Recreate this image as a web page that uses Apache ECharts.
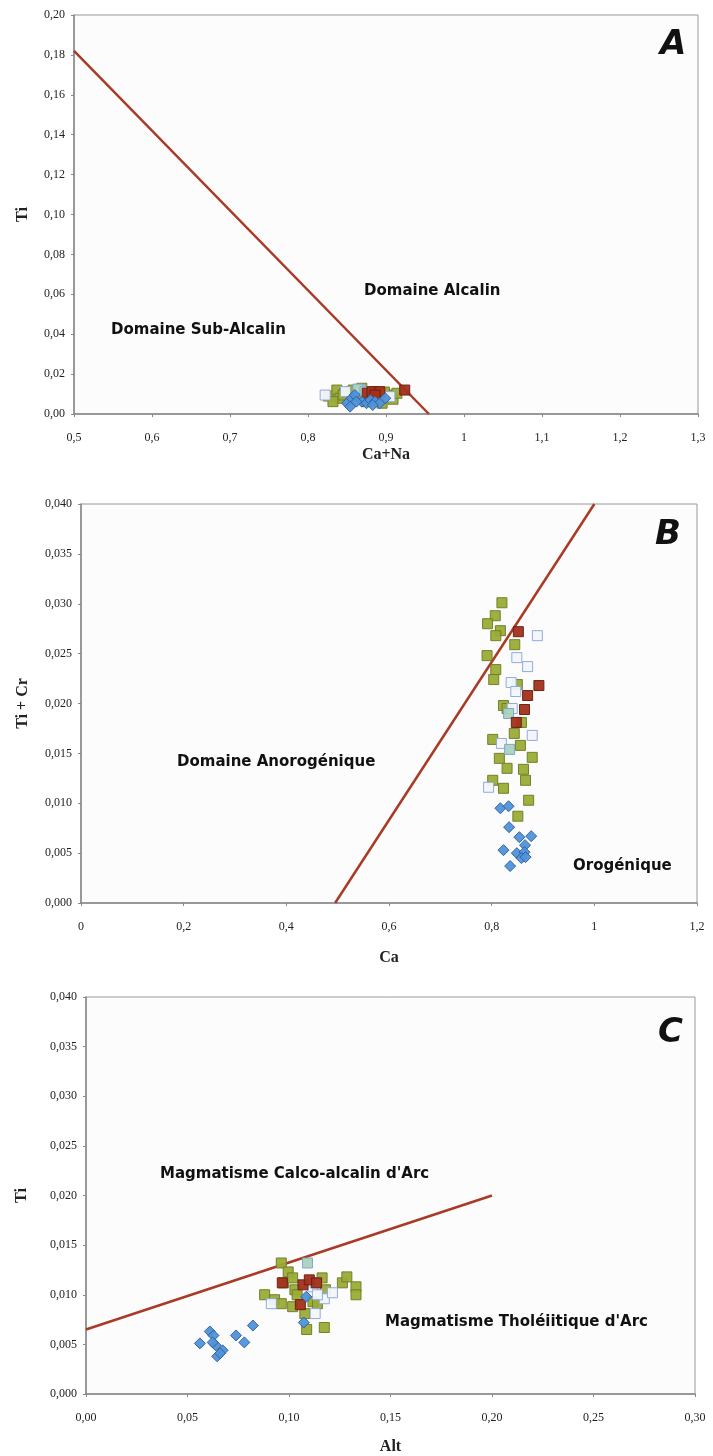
<!DOCTYPE html>
<html>
<head>
<meta charset="utf-8">
<script src="https://cdn.jsdelivr.net/npm/echarts@6/dist/echarts.min.js"></script>
<style>
  html, body { margin: 0; padding: 0; background: #fff; }
  #chart { width: 713px; height: 1456px; }
</style>
</head>
<body>
<div id="chart"></div>
<script>
// --- Panel A : Ti vs Ca+Na ---
var aGreen = [[0.826,0.009],[0.837,0.012],[0.841,0.0079],[0.847,0.0104],[0.854,0.0112],[0.862,0.0087],[0.869,0.0129],[0.875,0.0062],[0.886,0.0112],[0.895,0.0054],[0.903,0.0095],[0.909,0.0074],[0.914,0.0104],[0.832,0.0062],[0.845,0.0095],[0.880,0.0104],[0.898,0.011],[0.858,0.012]];
var aRed = [[0.876,0.0104],[0.882,0.0112],[0.892,0.0112],[0.886,0.0095],[0.924,0.012]];
var aBlue = [[0.850,0.0054],[0.856,0.0079],[0.860,0.0095],[0.854,0.0037],[0.869,0.0062],[0.875,0.0054],[0.880,0.0070],[0.886,0.0062],[0.892,0.0054],[0.899,0.0079],[0.862,0.0062],[0.883,0.0045]];
var aOpen = [[0.822,0.0095],[0.867,0.012],[0.905,0.0087],[0.848,0.0112]];
var aTeal = [[0.864,0.0125],[0.873,0.0112]];
var aLine = [[0.5,0.182],[0.955,0]];

// --- Panel B : Ti+Cr vs Ca ---
var bGreen = [[0.820,0.0301],[0.807,0.0288],[0.792,0.0280],[0.817,0.0273],[0.808,0.0268],[0.845,0.0259],[0.791,0.0248],[0.808,0.0234],[0.804,0.0224],[0.850,0.0219],[0.823,0.0198],[0.830,0.0195],[0.858,0.0181],[0.844,0.0170],[0.802,0.0164],[0.856,0.0158],[0.815,0.0145],[0.879,0.0146],[0.830,0.0135],[0.862,0.0134],[0.802,0.0123],[0.866,0.0123],[0.823,0.0115],[0.872,0.0103],[0.851,0.0087]];
var bRed = [[0.852,0.0272],[0.892,0.0218],[0.870,0.0208],[0.864,0.0194],[0.848,0.0181]];
var bBlue = [[0.817,0.0095],[0.833,0.0097],[0.834,0.0076],[0.877,0.0067],[0.854,0.0066],[0.865,0.0058],[0.823,0.0053],[0.849,0.0050],[0.864,0.0051],[0.858,0.0045],[0.866,0.0046],[0.836,0.0037]];
var bOpen = [[0.889,0.0268],[0.849,0.0246],[0.870,0.0237],[0.838,0.0221],[0.847,0.0212],[0.840,0.0195],[0.879,0.0168],[0.819,0.0160],[0.794,0.0116]];
var bTeal = [[0.833,0.0190],[0.835,0.0154]];
var bLine = [[0.495,0],[1.0,0.040]];

// --- Panel C : Ti vs Alt ---
var cGreen = [[0.0962,0.0132],[0.0996,0.0123],[0.0973,0.0112],[0.1018,0.0117],[0.1029,0.0105],[0.0880,0.0100],[0.0929,0.0095],[0.0962,0.0091],[0.1018,0.0088],[0.1040,0.0100],[0.1078,0.0081],[0.1087,0.0065],[0.1118,0.0093],[0.1163,0.0117],[0.1180,0.0105],[0.1174,0.0067],[0.1263,0.0112],[0.1285,0.0118],[0.1330,0.0108],[0.1330,0.0100],[0.1140,0.0091]];
var cRed = [[0.0967,0.0112],[0.1069,0.0110],[0.1100,0.0115],[0.1056,0.0090],[0.1136,0.0112]];
var cBlue = [[0.0561,0.0051],[0.0610,0.0063],[0.0628,0.0059],[0.0639,0.0049],[0.0646,0.0038],[0.0673,0.0044],[0.0661,0.0041],[0.0739,0.0059],[0.0780,0.0052],[0.0822,0.0069],[0.0624,0.0052],[0.1073,0.0072],[0.1085,0.0098]];
var cOpen = [[0.0913,0.0091],[0.1129,0.0081],[0.1174,0.0096],[0.1214,0.0102],[0.1118,0.0108],[0.1140,0.0100]];
var cTeal = [[0.1091,0.0132],[0.1129,0.0112]];
var cLine = [[0,0.0065],[0.20,0.020]];

var serif = 'Liberation Serif';
var noteFont = 'DejaVu Sans';

function comma(dec) {
  return function (v) {
    if (dec === null) return String(+v.toFixed(2)).replace('.', ',');
    return v.toFixed(dec).replace('.', ',');
  };
}

function xAxis(idx, min, max, step, dec, name, gap, margin) {
  return {
    gridIndex: idx, type: 'value', min: min, max: max, interval: step,
    name: name, nameLocation: 'middle', nameGap: gap,
    nameTextStyle: { fontFamily: serif, fontWeight: 'bold', fontSize: 16, color: '#222' },
    axisLine: { lineStyle: { color: '#888', width: 1.5 } },
    axisTick: { show: true, length: 3, lineStyle: { color: '#888' } },
    axisLabel: { formatter: comma(dec), fontFamily: serif, fontSize: 12, color: '#222', margin: margin },
    splitLine: { show: false }
  };
}
function yAxis(idx, max, step, dec, name, gap) {
  return {
    gridIndex: idx, type: 'value', min: 0, max: max, interval: step,
    name: name, nameLocation: 'middle', nameGap: gap,
    nameTextStyle: { fontFamily: serif, fontWeight: 'bold', fontSize: 16, color: '#222' },
    axisLine: { lineStyle: { color: '#888', width: 1.5 } },
    axisTick: { show: true, length: 3, inside: false, lineStyle: { color: '#888' } },
    axisLabel: { formatter: comma(dec), fontFamily: serif, fontSize: 12, color: '#222', margin: 9 },
    splitLine: { show: false }
  };
}

var styles = {
  green: { symbol: 'rect', size: 10, color: '#9aab36', border: '#6f7d24' },
  teal: { symbol: 'rect', size: 10, color: '#aad3c0', border: '#7ea2c8' },
  open: { symbol: 'rect', size: 10, color: '#f3f6fc', border: '#8aa8d8' },
  red: { symbol: 'rect', size: 10, color: '#a3301c', border: '#6b1d0f' },
  blue: { symbol: 'diamond', size: 11, color: '#4f92d9', border: '#2f5f9f' }
};

function pts(data, key, idx) {
  var s = styles[key];
  return {
    type: 'scatter', xAxisIndex: idx, yAxisIndex: idx, data: data,
    symbol: s.symbol, symbolSize: s.size,
    itemStyle: { color: s.color, borderColor: s.border, borderWidth: 1, opacity: 0.95 },
    z: 3
  };
}
function line(data, idx) {
  return {
    type: 'line', xAxisIndex: idx, yAxisIndex: idx, data: data,
    showSymbol: false, symbol: 'none',
    lineStyle: { color: '#a83a26', width: 2.5 }, z: 2
  };
}

function note(x, y, text, size) {
  return {
    type: 'text', left: x, top: y,
    style: { text: text, font: 'bold ' + size + 'px "' + noteFont + '"', fill: '#111' }
  };
}
function letter(x, y, text) {
  return {
    type: 'text', left: x, top: y,
    style: { text: text, font: 'italic bold 34px "' + noteFont + '"', fill: '#111' }
  };
}

var grid = { show: true, borderColor: '#999', borderWidth: 1, backgroundColor: '#fcfcfc' };

var option = {
  backgroundColor: '#fff',
  animation: false,
  grid: [
    Object.assign({ left: 74, top: 15, width: 624, height: 399 }, grid),
    Object.assign({ left: 81, top: 504, width: 616, height: 399 }, grid),
    Object.assign({ left: 86, top: 997, width: 609, height: 397 }, grid)
  ],
  xAxis: [
    xAxis(0, 0.5, 1.3, 0.1, null, 'Ca+Na', 33, 18),
    xAxis(1, 0, 1.2, 0.2, null, 'Ca', 47, 18),
    xAxis(2, 0, 0.3, 0.05, 2, 'Alt', 45, 18)
  ],
  yAxis: [
    yAxis(0, 0.2, 0.02, 2, 'Ti', 43),
    yAxis(1, 0.04, 0.005, 3, 'Ti + Cr', 50),
    yAxis(2, 0.04, 0.005, 3, 'Ti', 56)
  ],
  series: [
    line(aLine, 0),
    pts(aGreen, 'green', 0), pts(aOpen, 'open', 0), pts(aTeal, 'teal', 0), pts(aRed, 'red', 0), pts(aBlue, 'blue', 0),
    line(bLine, 1),
    pts(bGreen, 'green', 1), pts(bOpen, 'open', 1), pts(bTeal, 'teal', 1), pts(bRed, 'red', 1), pts(bBlue, 'blue', 1),
    line(cLine, 2),
    pts(cGreen, 'green', 2), pts(cOpen, 'open', 2), pts(cTeal, 'teal', 2), pts(cRed, 'red', 2), pts(cBlue, 'blue', 2)
  ],
  graphic: [
    letter(660, 28, 'A'),
    note(364, 284, 'Domaine Alcalin', 15),
    note(111, 323, 'Domaine Sub-Alcalin', 15),
    letter(655, 518, 'B'),
    note(177, 755, 'Domaine Anorogénique', 15),
    note(573, 859, 'Orogénique', 15),
    letter(658, 1016, 'C'),
    note(160, 1167, "Magmatisme Calco-alcalin d'Arc", 15),
    note(385, 1315, "Magmatisme Tholéiitique d'Arc", 15)
  ]
};

var myChart = echarts.init(document.getElementById('chart'));
myChart.setOption(option);
</script>
</body>
</html>
